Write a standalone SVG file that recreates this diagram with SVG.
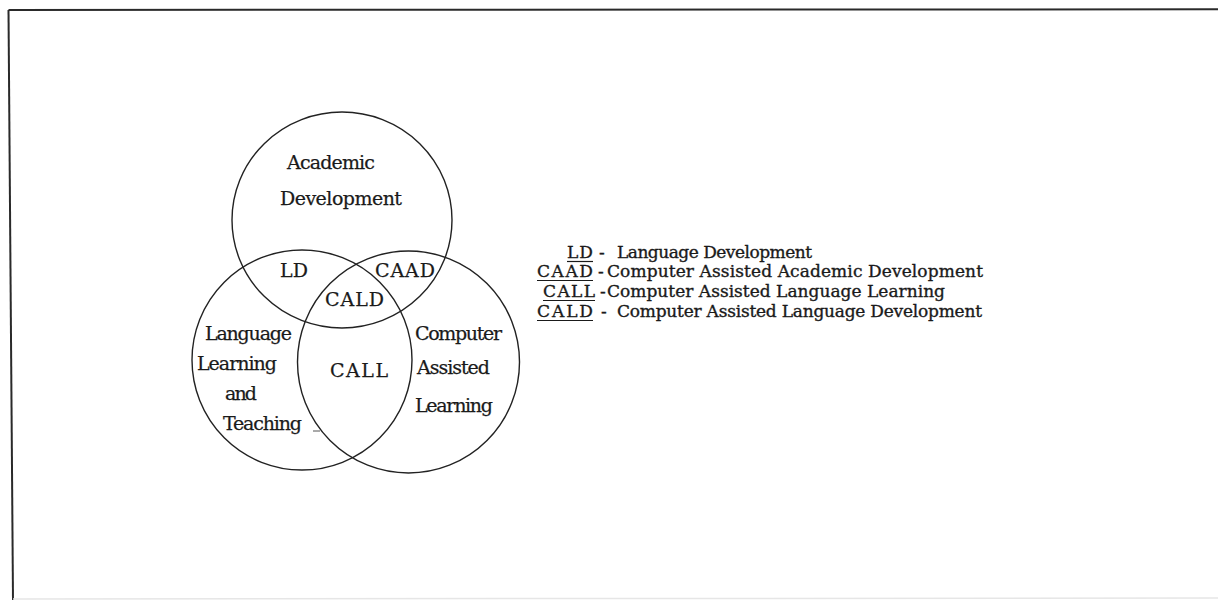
<svg xmlns="http://www.w3.org/2000/svg" width="1218" height="609" viewBox="0 0 1218 609">
<style>
.c{fill:none;stroke:#222;stroke-width:1.4}
.t{font-family:"DejaVu Serif","Liberation Serif",serif;font-size:19px;fill:#1a1a1a;stroke:#1a1a1a;stroke-width:0.25;text-anchor:start}
.l{font-family:"DejaVu Serif","Liberation Serif",serif;font-size:17px;fill:#1a1a1a;stroke:#1a1a1a;stroke-width:0.35}
.u{stroke:#1a1a1a;stroke-width:1.2}
.f{stroke:#2a2a2a;stroke-width:2;fill:none}
</style>
<rect width="1218" height="609" fill="#fff"/>
<g id="frame">
<path class="f" d="M8.5,10 L1218,9.3"/>
<path class="f" d="M8.5,10 L13,600"/>
<path d="M13,599 L1218,598" stroke="#e6e6e6" stroke-width="1.5" fill="none"/>
</g>
<g id="academic">
<ellipse class="c" cx="342" cy="220" rx="110" ry="108"/>
<text class="t" x="287" y="169" textLength="88">Academic</text>
<text class="t" x="280" y="205" textLength="122">Development</text>
</g>
<g id="language">
<circle class="c" cx="302" cy="360" r="110"/>
<text class="t" x="205" y="340" textLength="87">Language</text>
<text class="t" x="197" y="370" textLength="80">Learning</text>
<text class="t" x="225" y="400" textLength="32">and</text>
<text class="t" x="223" y="430" textLength="79">Teaching</text>
<line x1="313" y1="431" x2="320" y2="431" stroke="#555" stroke-width="1"/>
</g>
<g id="computer">
<circle class="c" cx="408.5" cy="362" r="111"/>
<text class="t" x="415" y="340" textLength="87">Computer</text>
<text class="t" x="417" y="374" textLength="73">Assisted</text>
<text class="t" x="415" y="412" textLength="78">Learning</text>
</g>
<g id="overlaps">
<text class="t" x="280" y="277" textLength="28">LD</text>
<text class="t" x="375" y="277" textLength="60">CAAD</text>
<text class="t" x="325" y="306" textLength="59">CALD</text>
<text class="t" x="330" y="377" textLength="58">CALL</text>
</g>
<g id="legend">
<text class="l" x="567" y="258" textLength="26">LD</text>
<line class="u" x1="567" y1="261.5" x2="593" y2="261.5"/>
<text class="l" x="599" y="258">-</text>
<text class="l" x="617" y="258" textLength="195">Language Development</text>

<text class="l" x="537" y="277" textLength="56">CAAD</text>
<line class="u" x1="537" y1="280.5" x2="593" y2="280.5"/>
<text class="l" x="598" y="277">-</text>
<text class="l" x="607" y="277" textLength="376">Computer Assisted Academic Development</text>

<text class="l" x="543" y="297" textLength="52">CALL</text>
<line class="u" x1="543" y1="300.5" x2="595" y2="300.5"/>
<text class="l" x="600" y="297">-</text>
<text class="l" x="607" y="297" textLength="338">Computer Assisted Language Learning</text>

<text class="l" x="537" y="317" textLength="56">CALD</text>
<line class="u" x1="537" y1="320.5" x2="593" y2="320.5"/>
<text class="l" x="601" y="317">-</text>
<text class="l" x="617" y="317" textLength="365">Computer Assisted Language Development</text>
</g>
</svg>
